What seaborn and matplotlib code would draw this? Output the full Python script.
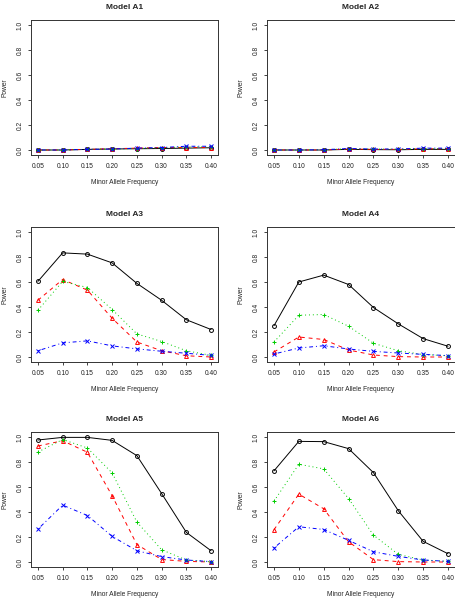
import matplotlib
matplotlib.use("Agg")
import matplotlib.pyplot as plt
import pandas as pd
import seaborn as sns

# minor allele frequencies (x axis)
maf = [0.05, 0.10, 0.15, 0.20, 0.25, 0.30, 0.35, 0.40]

# power per model, four series each (black / red / green / blue)
a1_black = [0.000, 0.000, 0.005, 0.008, 0.010, 0.012, 0.015, 0.018]
a1_red = [0.000, 0.000, 0.005, 0.010, 0.015, 0.020, 0.020, 0.020]
a1_green = [0.000, 0.000, 0.005, 0.008, 0.012, 0.018, 0.025, 0.025]
a1_blue = [0.000, 0.000, 0.005, 0.008, 0.015, 0.020, 0.030, 0.030]

a2_black = [0.000, 0.000, 0.000, 0.005, 0.003, 0.002, 0.005, 0.005]
a2_red = [0.000, 0.000, 0.000, 0.008, 0.005, 0.005, 0.010, 0.010]
a2_green = [0.000, 0.000, 0.002, 0.010, 0.008, 0.006, 0.012, 0.012]
a2_blue = [0.000, 0.000, 0.002, 0.012, 0.008, 0.008, 0.015, 0.015]

a3_black = [0.605, 0.833, 0.823, 0.753, 0.589, 0.454, 0.298, 0.220]
a3_red = [0.454, 0.620, 0.535, 0.310, 0.120, 0.050, 0.010, 0.000]
a3_green = [0.374, 0.605, 0.556, 0.380, 0.185, 0.124, 0.050, 0.013]
a3_blue = [0.050, 0.113, 0.129, 0.089, 0.065, 0.046, 0.030, 0.013]

a4_black = [0.250, 0.600, 0.655, 0.580, 0.396, 0.265, 0.147, 0.086]
a4_red = [0.040, 0.160, 0.140, 0.056, 0.016, 0.003, 0.000, 0.000]
a4_green = [0.120, 0.334, 0.340, 0.246, 0.110, 0.050, 0.020, 0.010]
a4_blue = [0.024, 0.072, 0.090, 0.064, 0.045, 0.032, 0.021, 0.011]

a5_black = [0.976, 0.997, 0.997, 0.973, 0.851, 0.548, 0.237, 0.090]
a5_red = [0.928, 0.970, 0.878, 0.530, 0.140, 0.020, 0.005, 0.000]
a5_green = [0.880, 0.980, 0.912, 0.713, 0.320, 0.098, 0.016, 0.003]
a5_blue = [0.263, 0.455, 0.372, 0.205, 0.090, 0.043, 0.016, 0.003]

a6_black = [0.729, 0.965, 0.963, 0.907, 0.715, 0.410, 0.165, 0.066]
a6_red = [0.258, 0.543, 0.426, 0.162, 0.019, 0.003, 0.000, 0.000]
a6_green = [0.487, 0.782, 0.745, 0.508, 0.215, 0.061, 0.016, 0.005]
a6_blue = [0.112, 0.282, 0.260, 0.173, 0.082, 0.045, 0.016, 0.005]

models = {
    "Model A1": [a1_black, a1_red, a1_green, a1_blue],
    "Model A2": [a2_black, a2_red, a2_green, a2_blue],
    "Model A3": [a3_black, a3_red, a3_green, a3_blue],
    "Model A4": [a4_black, a4_red, a4_green, a4_blue],
    "Model A5": [a5_black, a5_red, a5_green, a5_blue],
    "Model A6": [a6_black, a6_red, a6_green, a6_blue],
}

# R-like series styles: colour, line type, marker
styles = [
    ("black", "-", "o"),
    ("#FF0000", (0, (4, 4)), "^"),
    ("#00CD00", (0, (1, 3)), "+"),
    ("#0000FF", (0, (1, 3, 4, 3)), "x"),
]

sns.set_style("white")
plt.rcParams["font.family"] = ["Liberation Sans", "DejaVu Sans"]

fig = plt.figure(figsize=(4.56, 6.0), dpi=100)

# axes boxes in pixels: left, top, right, bottom
col_x = [(31, 218), (267, 455)]
row_y = [(20, 155), (227, 362), (432, 567)]

for i, (name, series) in enumerate(models.items()):
    r, c = divmod(i, 2)
    x0, x1 = col_x[c]
    y0, y1 = row_y[r]
    ax = fig.add_axes([x0 / 456, 1 - y1 / 600, (x1 - x0) / 456, (y1 - y0) / 600])

    for vals, (col, ls, mk) in zip(series, styles):
        df = pd.DataFrame({"maf": maf, "power": vals})
        sns.lineplot(data=df, x="maf", y="power", ax=ax, color=col,
                     linestyle=ls, linewidth=0.7, marker=mk, markersize=2.8,
                     markerfacecolor="none", markeredgecolor=col,
                     markeredgewidth=0.7)

    ax.set_xlim(0.05 - 0.014, 0.40 + 0.014)
    ax.set_ylim(-0.04, 1.04)
    ax.set_xticks(maf)
    ax.set_xticklabels([f"{m:.2f}" for m in maf])
    ax.set_yticks([0, 0.2, 0.4, 0.6, 0.8, 1.0])
    ax.set_yticklabels(["0.0", "0.2", "0.4", "0.6", "0.8", "1.0"],
                       rotation=90, va="center")
    ax.tick_params(direction="out", length=2.5, width=0.6, pad=3,
                   labelsize=4.8, colors="#222222", bottom=True, left=True)
    ax.set_xlabel("Minor Allele Frequency", fontsize=4.8, labelpad=7)
    ax.set_ylabel("Power", fontsize=4.8, labelpad=6)
    ax.set_title(name, fontsize=6, fontweight="bold", pad=8)
    for sp in ax.spines.values():
        sp.set_color("#333333")
        sp.set_linewidth(0.7)

fig.savefig("out.png", dpi=100)
